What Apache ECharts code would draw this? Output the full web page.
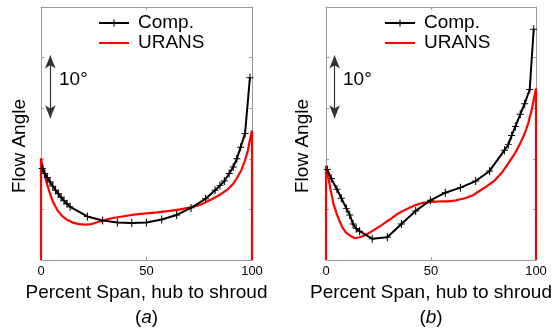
<!DOCTYPE html>
<html>
<head>
<meta charset="utf-8">
<script src="https://cdn.jsdelivr.net/npm/echarts@6/dist/echarts.min.js"></script>
<style>
html,body{margin:0;padding:0;background:#fff;}
#chart{width:558px;height:331px;}
</style>
</head>
<body>
<div id="chart"></div>
<script>
// ---- data (x = percent span, y = flow angle, arbitrary degree offset) ----
const xTicks = [0, 50, 100];
const compA = [[0.6,18.1],[1.8,17.1],[3.0,16.3],[4.3,15.4],[5.6,14.6],[6.9,13.8],[8.2,13.1],[9.5,12.4],[10.9,11.7],[12.3,11.1],[13.8,10.5],[22,8.6],[29.2,7.8],[36.2,7.4],[43,7.3],[50,7.4],[57.2,8.0],[64.3,8.9],[71.1,10.3],[78,12.1],[82.5,13.8],[84.8,14.7],[86.9,15.6],[89.2,17.1],[91.1,18.4],[92.8,20.0],[94.6,22.3],[96.7,25.0],[99,36]];
const uransA = [[0,0],[0,20.1],[0.5,19.0],[1.5,17.2],[3,14.8],[4.5,12.8],[6,11.2],[8,9.7],[10,8.7],[12.5,7.9],[15,7.4],[18,7.1],[21,7.0],[24,7.1],[27,7.5],[30,7.9],[34,8.3],[40,8.7],[45,9.0],[50,9.2],[55,9.4],[61,9.7],[66,10.0],[71,10.4],[76,11.0],[80,11.8],[84,12.7],[88,13.8],[91,15.0],[93,16.3],[95,17.8],[96.7,19.7],[98,21.6],[99,23.7],[100,25.6],[100,0]];
const compB = [[0.6,17.9],[2.5,16.1],[5.2,14.0],[7.3,12.2],[9.7,10.2],[11.3,8.9],[12.9,7.1],[14.4,6.2],[16,5.7],[22,4.2],[29.2,4.5],[35.9,7.1],[42.7,9.7],[49.7,11.8],[56.8,13.3],[64,14.3],[71.3,15.6],[77.9,17.6],[85,21.7],[86.8,22.8],[88.4,24.6],[90.2,26.4],[92.5,28.8],[94.6,30.9],[97,33.7],[98.9,45.6]];
const uransB = [[0,0],[0,18.6],[0.5,17.8],[1.1,16.4],[2,14.3],[3.5,11.2],[5,9.2],[6.5,7.6],[8,6.3],[9.5,5.4],[11.5,4.8],[13.8,4.3],[16,4.5],[18.6,4.9],[22,5.7],[26.5,6.9],[30,7.9],[34.4,9.2],[38,10.0],[42.4,10.8],[46,11.3],[50.3,11.5],[55,11.6],[58.2,11.6],[62,11.8],[66.2,12.2],[70,12.8],[72.5,13.5],[76,14.4],[80.5,15.8],[84,17.4],[86.8,19.1],[90,21.1],[92.4,23.0],[94.5,24.9],[96.3,27],[98,29.8],[100,33.9],[100,0]];
const arrowA = [[4.4,40.4],[4.4,28.0]];
const arrowB = [[4.1,40.4],[4.1,28.0]];
const seriesNames = ['Comp.', 'URANS'];
const panelLabels = ['a', 'b'];
const xName = 'Percent Span, hub to shroud';
const yName = 'Flow Angle';
const scaleLabel = '10°';

const FONT = 'Liberation Sans, Arial, sans-serif';
const AXC = '#9a9a9a';
const plus = 'path://M-0.6,-5 L0.6,-5 L0.6,-0.6 L4,-0.6 L4,0.6 L0.6,0.6 L0.6,5 L-0.6,5 L-0.6,0.6 L-4,0.6 L-4,-0.6 L-0.6,-0.6 Z';

function xAx(grid, pos, labels) {
  return {
    type: 'value', gridIndex: grid, position: pos, min: 0, max: 100, interval: 50,
    axisLine: {show: true, onZero: false, lineStyle: {color: AXC, width: 1}},
    axisTick: {show: true, inside: true, length: 3, lineStyle: {color: AXC}},
    axisLabel: {show: labels, color: '#000', fontSize: 13, fontFamily: FONT, margin: 5},
    splitLine: {show: false},
    name: labels ? xName : '', nameLocation: 'middle', nameGap: 11,
    nameTextStyle: {color: '#000', fontSize: 19, fontFamily: FONT}
  };
}
function yAx(grid, pos) {
  return {
    type: 'value', gridIndex: grid, position: pos, min: 0, max: 50, interval: 10,
    axisLine: {show: true, onZero: false, lineStyle: {color: AXC, width: 1}},
    axisTick: {show: true, inside: true, length: 3, lineStyle: {color: AXC}},
    axisLabel: {show: false}, splitLine: {show: false}
  };
}
function compSeries(data, xi, yi, arrow) {
  return {
    name: seriesNames[0], type: 'line', xAxisIndex: xi, yAxisIndex: yi, data: data,
    symbol: plus, symbolSize: [7, 8], showSymbol: true, clip: false,
    lineStyle: {color: '#000', width: 2}, itemStyle: {color: '#000'},
    animation: false, z: 3,
    markLine: {
      silent: true, symbol: ['arrow', 'arrow'], symbolSize: [8, 13],
      label: {show: false},
      lineStyle: {color: '#333', width: 1.2, type: 'solid'},
      data: [[{coord: arrow[0]}, {coord: arrow[1]}]]
    }
  };
}
function uransSeries(data, xi, yi) {
  return {
    name: seriesNames[1], type: 'line', xAxisIndex: xi, yAxisIndex: yi, data: data,
    symbol: 'none', showSymbol: false, clip: false,
    lineStyle: {color: '#ff0000', width: 2.2}, itemStyle: {color: '#ff0000'},
    animation: false, z: 2
  };
}
function legend(left) {
  return {
    orient: 'vertical', left: left, top: 13, padding: 0, itemGap: 0,
    itemWidth: 30, itemHeight: 9, selectedMode: false,
    data: [{name: seriesNames[0]}, {name: seriesNames[1], itemStyle: {opacity: 0}}],
    textStyle: {color: '#000', fontSize: 19, fontFamily: FONT, lineHeight: 20, padding: [0, 0, 0, 4]}
  };
}
function txt(x, y, text, opts) {
  return Object.assign({type: 'text', x: x, y: y, silent: true,
    style: Object.assign({text: text, fill: '#000', font: '19px ' + FONT}, opts || {})});
}
function panelLabel(x, letter) {
  return {type: 'text', x: x, y: 318, silent: true,
    style: {text: '{n|(}{i|' + letter + '}{n|)}', align: 'center', verticalAlign: 'middle',
      rich: {n: {fontSize: 19, fontFamily: FONT, fill: '#000'},
             i: {fontSize: 19, fontFamily: FONT, fontStyle: 'italic', fill: '#000'}}}};
}

const chart = echarts.init(document.getElementById('chart'), null, {renderer: 'canvas'});
chart.setOption({
  backgroundColor: '#fff',
  animation: false,
  grid: [
    {left: 41, top: 7, width: 211, height: 253},
    {left: 326, top: 7, width: 210, height: 253}
  ],
  xAxis: [xAx(0, 'bottom', true), xAx(0, 'top', false), xAx(1, 'bottom', true), xAx(1, 'top', false)],
  yAxis: [yAx(0, 'left'), yAx(0, 'right'), yAx(1, 'left'), yAx(1, 'right')],
  legend: [legend(98), legend(384)],
  series: [
    uransSeries(uransA, 0, 0), compSeries(compA, 0, 0, arrowA),
    uransSeries(uransB, 2, 2), compSeries(compB, 2, 2, arrowB)
  ],
  graphic: [
    txt(59, 80, scaleLabel, {verticalAlign: 'middle', font: '19px ' + FONT}),
    txt(343, 80, scaleLabel, {verticalAlign: 'middle', font: '19px ' + FONT}),
    Object.assign(txt(19.5, 146, yName, {align: 'center', verticalAlign: 'middle'}), {rotation: Math.PI / 2}),
    Object.assign(txt(303, 146, yName, {align: 'center', verticalAlign: 'middle'}), {rotation: Math.PI / 2}),
    panelLabel(146.5, panelLabels[0]),
    panelLabel(431, panelLabels[1])
  ]
});
</script>
</body>
</html>
